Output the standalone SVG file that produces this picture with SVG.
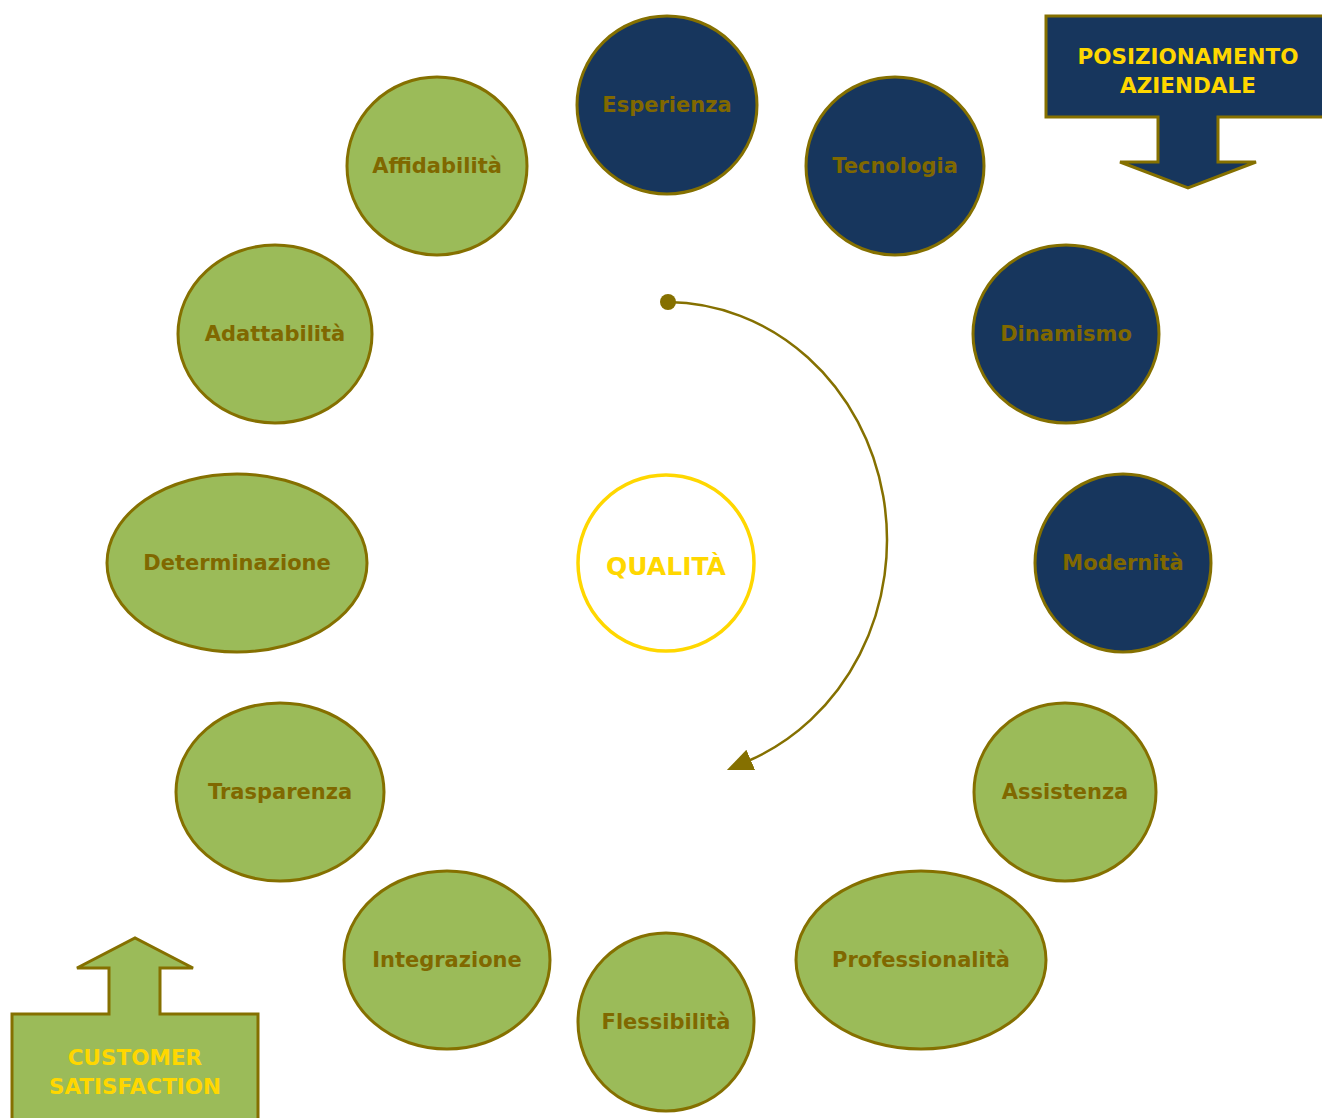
<svg xmlns="http://www.w3.org/2000/svg" width="1322" height="1118" viewBox="0 0 1322 1118">
<style>
.navy{fill:#17365D;stroke:#857000;stroke-width:3}
.green{fill:#9BBB59;stroke:#857000;stroke-width:3}
.lbl{font-family:"DejaVu Sans",sans-serif;font-weight:bold;font-size:21px;fill:#806800;text-anchor:middle;dominant-baseline:central}
.ylbl{font-family:"DejaVu Sans",sans-serif;font-weight:bold;font-size:21.5px;fill:#FFD700;text-anchor:middle;dominant-baseline:central}
.big{font-size:25px}
</style>
<defs>
<marker id="ah" markerWidth="30" markerHeight="30" refX="3" refY="12" orient="auto" markerUnits="userSpaceOnUse">
<path d="M0,1 L26,12 L0,23 Z" fill="#857000"/>
</marker>
</defs>
<rect width="1322" height="1118" fill="#fff"/>
<g id="connectors">
<path d="M668,302 A221 238 0 0 1 748,761" fill="none" stroke="#857000" stroke-width="2.5" marker-end="url(#ah)"/>
<circle cx="668" cy="302" r="8" fill="#857000"/>
</g>
<g id="posizionamento">
<path class="navy" d="M1046,16 H1325 V117 H1218 V162 H1256 L1188,188 L1120,162 H1158 V117 H1046 Z"/>
<text class="ylbl" x="1188" y="56">POSIZIONAMENTO</text>
<text class="ylbl" x="1188" y="85">AZIENDALE</text>
</g>
<g id="customer">
<path class="green" d="M12,1014 H109 V968 H77 L135,938 L193,968 H160 V1014 H258 V1122 H12 Z"/>
<text class="ylbl" x="135" y="1057">CUSTOMER</text>
<text class="ylbl" x="135" y="1086">SATISFACTION</text>
</g>
<g id="qualita">
<circle cx="666" cy="563" r="88" fill="#fff" stroke="#FFD700" stroke-width="3.5"/>
<text class="ylbl big" x="666" y="566">QUALITÀ</text>
</g>
<g id="esperienza"><ellipse class="navy" cx="667" cy="105" rx="90" ry="89"/><text class="lbl" x="667" y="105">Esperienza</text></g>
<g id="tecnologia"><ellipse class="navy" cx="895" cy="166" rx="89" ry="89"/><text class="lbl" x="895" y="166">Tecnologia</text></g>
<g id="dinamismo"><ellipse class="navy" cx="1066" cy="334" rx="93" ry="89"/><text class="lbl" x="1066" y="334">Dinamismo</text></g>
<g id="modernita"><ellipse class="navy" cx="1123" cy="563" rx="88" ry="89"/><text class="lbl" x="1123" y="563">Modernità</text></g>
<g id="assistenza"><ellipse class="green" cx="1065" cy="792" rx="91" ry="89"/><text class="lbl" x="1065" y="792">Assistenza</text></g>
<g id="professionalita"><ellipse class="green" cx="921" cy="960" rx="125" ry="89"/><text class="lbl" x="921" y="960">Professionalità</text></g>
<g id="flessibilita"><ellipse class="green" cx="666" cy="1022" rx="88" ry="89"/><text class="lbl" x="666" y="1022">Flessibilità</text></g>
<g id="integrazione"><ellipse class="green" cx="447" cy="960" rx="103" ry="89"/><text class="lbl" x="447" y="960">Integrazione</text></g>
<g id="trasparenza"><ellipse class="green" cx="280" cy="792" rx="104" ry="89"/><text class="lbl" x="280" y="792">Trasparenza</text></g>
<g id="determinazione"><ellipse class="green" cx="237" cy="563" rx="130" ry="89"/><text class="lbl" x="237" y="563">Determinazione</text></g>
<g id="adattabilita"><ellipse class="green" cx="275" cy="334" rx="97" ry="89"/><text class="lbl" x="275" y="334">Adattabilità</text></g>
<g id="affidabilita"><ellipse class="green" cx="437" cy="166" rx="90" ry="89"/><text class="lbl" x="437" y="166">Affidabilità</text></g>
</svg>
